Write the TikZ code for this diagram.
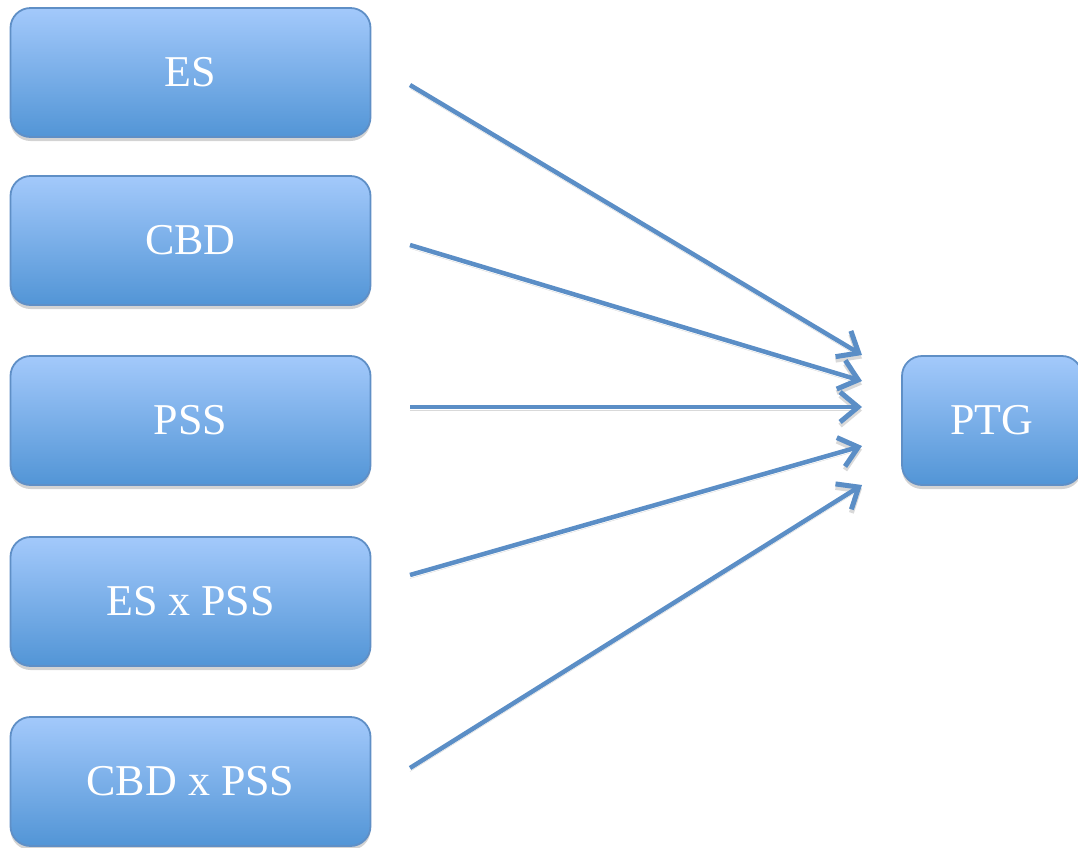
\documentclass[tikz,border=0pt]{standalone}
\usepackage{fontspec}
\setmainfont{Liberation Serif}
\usetikzlibrary{arrows.meta, shadows}
\definecolor{boxtop}{RGB}{163,201,251}
\definecolor{boxbot}{RGB}{82,149,214}
\definecolor{boxline}{RGB}{95,143,198}
\definecolor{arrowblue}{RGB}{91,142,198}
\tikzstyle{block} = [rectangle, rounded corners=20pt, draw=boxline, line width=1.8pt,
    top color=boxtop, bottom color=boxbot, minimum width=360pt, minimum height=129pt,
    text=white, font=\fontsize{44}{52}\selectfont,
    drop shadow={shadow xshift=0pt, shadow yshift=-4pt, opacity=0.35, fill=gray}]
\tikzstyle{arrow} = [line width=4.5pt, arrowblue, -{Straight Barb[length=18pt, width=30pt, line width=5pt]},
    preaction={draw=black!15, transform canvas={yshift=-3.5pt}}]

\begin{document}
\begin{tikzpicture}[x=1pt, y=-1pt]
        \useasboundingbox (0,0) rectangle (1078,847);

        % Predictors
        \node at (190.5,72.5) [block] (es) {ES};
        \node at (190.5,240.5) [block] (cbd) {CBD};
        \node at (190.5,420.5) [block] (pss) {PSS};
        \node at (190.5,601.5) [block] (espss) {ES x PSS};
        \node at (190.5,781.5) [block] (cbdpss) {CBD x PSS};

        % Outcome
        \node at (992,420.5) [block, minimum width=180pt] (ptg) {PTG};

        % Arrow tails and heads
        \coordinate (esT) at (410,85);
        \coordinate (cbdT) at (410,245);
        \coordinate (pssT) at (410,407);
        \coordinate (espssT) at (410,575);
        \coordinate (cbdpssT) at (410,768);
        \coordinate (esH) at (862,355);
        \coordinate (cbdH) at (862,381);
        \coordinate (pssH) at (862,407);
        \coordinate (espssH) at (862,446);
        \coordinate (cbdpssH) at (862,485);

        % Paths
        \draw [arrow] (esT) -- (esH);
        \draw [arrow] (cbdT) -- (cbdH);
        \draw [arrow] (pssT) -- (pssH);
        \draw [arrow] (espssT) -- (espssH);
        \draw [arrow] (cbdpssT) -- (cbdpssH);

\end{tikzpicture}
\end{document}
